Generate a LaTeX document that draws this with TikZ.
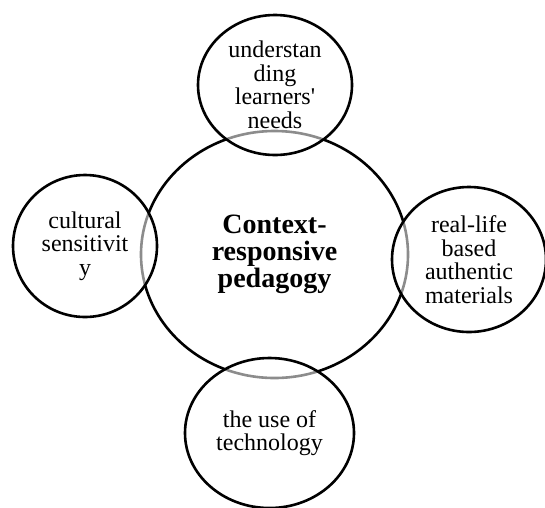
\documentclass[tikz,border=0pt]{standalone}
\usepackage{fontspec}
\setmainfont{Liberation Serif}
\usetikzlibrary{shapes.geometric}
\begin{document}
\begin{tikzpicture}[x=1pt,y=-1pt,
  ring/.style={ellipse, draw=black, line width=2.6pt, inner sep=0pt, align=center},
  hub/.style={ring, fill=white, font=\bfseries\fontsize{28}{26.7}\selectfont},
  petal/.style={ring, fill=white, fill opacity=0.55, text opacity=1, font=\fontsize{24}{23.5}\selectfont},
]
\useasboundingbox (0,0) rectangle (545,507);
\node[hub, minimum width=267pt, minimum height=247pt] (hub) at (274.5,254.5) {Context-\\responsive\\pedagogy};
\node[petal, minimum width=154pt, minimum height=140pt] (top) at (275,85) {understan\\ding\\learners\textquotesingle\\needs};
\node[petal, minimum width=144pt, minimum height=142pt] (left) at (85,246) {cultural\\sensitivit\\y};
\node[petal, minimum width=154pt, minimum height=145pt] (right) at (469,259.5) {real-life\\based\\authentic\\materials};
\node[petal, minimum width=169pt, minimum height=150pt] (bottom) at (269.5,433) {the use of\\technology};
\end{tikzpicture}
\end{document}
